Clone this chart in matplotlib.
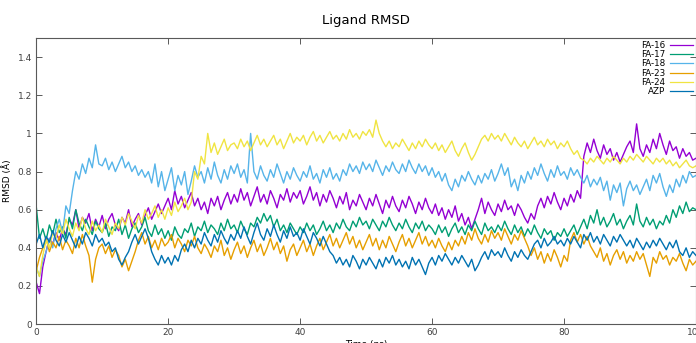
import numpy as np
import matplotlib
matplotlib.use("Agg")
import matplotlib.pyplot as plt
from matplotlib.ticker import FuncFormatter

# time axis: one value every 0.5 ns, 0 .. 100 ns
time = np.arange(201) * 0.5

fa16 = [0.22,0.16,0.30,0.38,0.45,0.42,0.48,0.44,0.50,0.47, 0.55,0.52,0.60,0.50,0.56,0.53,0.58,0.49,0.55,0.51,
        0.57,0.50,0.55,0.58,0.52,0.49,0.56,0.53,0.60,0.51, 0.55,0.58,0.52,0.57,0.61,0.55,0.59,0.63,0.58,0.62,
        0.66,0.60,0.70,0.63,0.67,0.61,0.65,0.69,0.62,0.66, 0.60,0.64,0.58,0.66,0.62,0.67,0.60,0.65,0.69,0.63,
        0.68,0.64,0.71,0.65,0.69,0.62,0.67,0.72,0.64,0.68, 0.63,0.70,0.66,0.61,0.68,0.65,0.71,0.64,0.69,0.66,
        0.70,0.63,0.67,0.72,0.65,0.69,0.62,0.68,0.64,0.70, 0.66,0.61,0.67,0.63,0.69,0.60,0.65,0.62,0.68,0.64,
        0.60,0.66,0.62,0.68,0.63,0.58,0.65,0.61,0.67,0.62, 0.59,0.65,0.61,0.67,0.63,0.58,0.64,0.60,0.66,0.61,
        0.58,0.63,0.57,0.61,0.55,0.60,0.56,0.62,0.54,0.58, 0.52,0.56,0.50,0.55,0.60,0.66,0.58,0.64,0.60,0.57,
        0.63,0.59,0.65,0.60,0.62,0.57,0.63,0.60,0.56,0.53, 0.58,0.55,0.62,0.66,0.61,0.67,0.63,0.69,0.64,0.60,
        0.66,0.62,0.68,0.64,0.70,0.66,0.88,0.95,0.90,0.97, 0.91,0.87,0.94,0.89,0.92,0.86,0.90,0.85,0.89,0.93,
        0.96,0.90,1.05,0.92,0.88,0.94,0.90,0.97,0.92,1.00, 0.94,0.89,0.96,0.91,0.93,0.87,0.92,0.88,0.90,0.86, 0.87]

fa17 = [0.62,0.45,0.50,0.44,0.52,0.47,0.55,0.48,0.51,0.45, 0.56,0.50,0.60,0.53,0.49,0.55,0.51,0.47,0.54,0.50,
        0.48,0.53,0.46,0.51,0.49,0.55,0.47,0.52,0.45,0.50, 0.53,0.48,0.51,0.56,0.49,0.46,0.52,0.47,0.50,0.45,
        0.49,0.44,0.51,0.47,0.45,0.50,0.48,0.53,0.46,0.51, 0.49,0.54,0.48,0.52,0.50,0.47,0.53,0.49,0.55,0.50,
        0.52,0.48,0.54,0.50,0.47,0.53,0.51,0.56,0.53,0.58, 0.54,0.57,0.51,0.55,0.49,0.52,0.48,0.53,0.50,0.47,
        0.51,0.48,0.53,0.49,0.52,0.47,0.50,0.54,0.49,0.52, 0.48,0.53,0.50,0.55,0.51,0.49,0.54,0.51,0.56,0.52,
        0.54,0.50,0.55,0.52,0.49,0.54,0.51,0.56,0.52,0.49, 0.53,0.50,0.55,0.51,0.48,0.53,0.50,0.54,0.49,0.52,
        0.50,0.47,0.52,0.48,0.51,0.46,0.50,0.53,0.48,0.51, 0.47,0.52,0.49,0.54,0.50,0.47,0.53,0.49,0.51,0.48,
        0.52,0.49,0.54,0.50,0.47,0.52,0.48,0.51,0.46,0.50, 0.47,0.52,0.48,0.45,0.50,0.47,0.49,0.44,0.48,0.46,
        0.50,0.46,0.49,0.52,0.47,0.51,0.55,0.50,0.57,0.53, 0.60,0.52,0.56,0.51,0.54,0.58,0.52,0.55,0.50,0.54,
        0.57,0.52,0.63,0.54,0.51,0.56,0.52,0.55,0.50,0.54, 0.52,0.57,0.53,0.60,0.56,0.62,0.58,0.64,0.59,0.61, 0.60]

fa18 = [0.30,0.25,0.33,0.38,0.45,0.40,0.50,0.55,0.48,0.62, 0.58,0.70,0.80,0.76,0.84,0.79,0.87,0.82,0.94,0.84,
        0.83,0.87,0.81,0.85,0.80,0.84,0.88,0.82,0.85,0.80, 0.83,0.78,0.81,0.77,0.80,0.74,0.84,0.72,0.80,0.70,
        0.76,0.82,0.70,0.78,0.73,0.80,0.68,0.75,0.83,0.77, 0.80,0.74,0.82,0.76,0.85,0.78,0.74,0.81,0.76,0.83,
        0.79,0.84,0.77,0.81,0.74,1.00,0.80,0.76,0.83,0.78, 0.75,0.81,0.77,0.84,0.79,0.74,0.80,0.76,0.82,0.78,
        0.75,0.80,0.77,0.83,0.76,0.79,0.74,0.81,0.77,0.82, 0.76,0.79,0.75,0.81,0.78,0.84,0.80,0.83,0.79,0.85,
        0.81,0.84,0.80,0.86,0.82,0.78,0.83,0.80,0.85,0.81, 0.79,0.84,0.80,0.86,0.82,0.79,0.84,0.80,0.83,0.78,
        0.82,0.77,0.80,0.75,0.79,0.73,0.70,0.76,0.72,0.78, 0.75,0.80,0.76,0.73,0.78,0.74,0.79,0.76,0.81,0.75,
        0.79,0.84,0.78,0.82,0.72,0.76,0.70,0.78,0.74,0.80, 0.76,0.82,0.78,0.84,0.79,0.75,0.81,0.77,0.83,0.78,
        0.80,0.76,0.82,0.78,0.81,0.77,0.74,0.78,0.72,0.76, 0.73,0.77,0.70,0.75,0.65,0.73,0.69,0.74,0.62,0.71,
        0.75,0.70,0.73,0.68,0.72,0.76,0.70,0.78,0.74,0.79, 0.72,0.67,0.73,0.69,0.76,0.72,0.78,0.74,0.80,0.77, 0.78]

fa23 = [0.28,0.35,0.40,0.45,0.38,0.43,0.40,0.46,0.39,0.44, 0.41,0.37,0.45,0.40,0.47,0.41,0.36,0.22,0.34,0.40,
        0.42,0.37,0.41,0.35,0.39,0.36,0.30,0.34,0.28,0.33, 0.38,0.44,0.48,0.42,0.46,0.40,0.44,0.39,0.45,0.41,
        0.43,0.47,0.40,0.45,0.42,0.38,0.44,0.41,0.46,0.40, 0.37,0.42,0.39,0.35,0.41,0.38,0.44,0.36,0.40,0.34,
        0.39,0.43,0.37,0.41,0.35,0.40,0.44,0.38,0.42,0.36, 0.40,0.45,0.39,0.43,0.37,0.41,0.33,0.39,0.42,0.36,
        0.40,0.44,0.38,0.42,0.36,0.41,0.45,0.39,0.43,0.47, 0.41,0.45,0.40,0.44,0.48,0.42,0.46,0.40,0.44,0.39,
        0.43,0.47,0.41,0.45,0.39,0.44,0.40,0.46,0.42,0.38, 0.43,0.47,0.41,0.45,0.40,0.44,0.48,0.42,0.46,0.41,
        0.44,0.40,0.45,0.41,0.38,0.43,0.39,0.44,0.41,0.46, 0.42,0.48,0.44,0.50,0.45,0.42,0.47,0.43,0.49,0.45,
        0.48,0.44,0.50,0.46,0.42,0.47,0.44,0.49,0.45,0.41, 0.36,0.40,0.34,0.38,0.32,0.37,0.33,0.39,0.35,0.30,
        0.36,0.33,0.44,0.48,0.43,0.47,0.42,0.46,0.41,0.38, 0.35,0.40,0.33,0.37,0.31,0.36,0.39,0.34,0.38,0.32,
        0.36,0.33,0.38,0.34,0.37,0.31,0.25,0.35,0.32,0.38, 0.34,0.36,0.31,0.35,0.33,0.37,0.32,0.28,0.34,0.31, 0.33]

fa24 = [0.30,0.25,0.36,0.44,0.40,0.48,0.45,0.52,0.47,0.55, 0.50,0.46,0.53,0.49,0.56,0.50,0.47,0.54,0.49,0.52,
        0.48,0.55,0.51,0.47,0.53,0.50,0.56,0.52,0.58,0.54, 0.50,0.57,0.53,0.60,0.55,0.58,0.62,0.56,0.60,0.55,
        0.61,0.57,0.64,0.59,0.62,0.66,0.60,0.64,0.80,0.76, 0.88,0.84,1.00,0.90,0.95,0.89,0.93,0.97,0.91,0.94,
        0.95,0.92,0.97,0.93,0.96,0.91,0.95,0.99,0.94,0.97, 0.93,0.96,0.99,0.94,0.97,0.92,0.96,1.00,0.95,0.98,
        0.96,0.99,0.94,0.98,1.01,0.96,0.99,0.95,0.98,1.01, 0.97,0.99,0.96,1.00,0.97,1.02,0.98,1.00,0.97,1.01,
        0.99,1.02,0.98,1.07,1.00,0.96,0.93,0.96,0.92,0.95, 0.93,0.97,0.94,0.91,0.95,0.92,0.96,0.93,0.97,0.94,
        0.92,0.95,0.91,0.94,0.90,0.93,0.96,0.91,0.88,0.92, 0.95,0.90,0.86,0.89,0.93,0.97,0.99,0.96,1.00,0.97,
        0.99,0.96,1.00,0.97,0.94,0.98,0.95,0.93,0.96,0.92, 0.95,0.98,0.94,0.96,0.93,0.97,0.94,0.96,0.92,0.95,
        0.93,0.96,0.92,0.89,0.91,0.87,0.86,0.84,0.87,0.85, 0.88,0.86,0.84,0.87,0.85,0.88,0.86,0.84,0.87,0.85,
        0.88,0.86,0.89,0.87,0.85,0.88,0.86,0.84,0.87,0.85, 0.87,0.84,0.86,0.83,0.85,0.82,0.84,0.86,0.83,0.82, 0.83]

azp = [0.42,0.47,0.40,0.46,0.43,0.49,0.44,0.41,0.47,0.43, 0.48,0.44,0.40,0.46,0.42,0.48,0.45,0.41,0.47,0.43,
       0.45,0.41,0.43,0.38,0.40,0.34,0.31,0.35,0.38,0.43, 0.47,0.42,0.46,0.50,0.45,0.38,0.34,0.31,0.36,0.32,
       0.35,0.31,0.36,0.33,0.39,0.42,0.38,0.44,0.40,0.45, 0.42,0.48,0.44,0.41,0.47,0.43,0.49,0.45,0.42,0.47,
       0.44,0.49,0.45,0.51,0.46,0.42,0.48,0.53,0.47,0.44, 0.50,0.46,0.52,0.47,0.43,0.49,0.45,0.51,0.46,0.48,
       0.44,0.50,0.46,0.42,0.48,0.45,0.41,0.46,0.42,0.38, 0.36,0.32,0.35,0.31,0.34,0.30,0.36,0.33,0.29,0.34,
       0.31,0.35,0.32,0.29,0.34,0.30,0.35,0.32,0.36,0.31, 0.34,0.30,0.33,0.29,0.35,0.31,0.34,0.30,0.26,0.32,
       0.35,0.31,0.36,0.33,0.37,0.34,0.31,0.35,0.32,0.36, 0.33,0.30,0.34,0.28,0.31,0.35,0.38,0.34,0.39,0.36,
       0.38,0.35,0.40,0.36,0.33,0.38,0.35,0.39,0.36,0.34, 0.38,0.42,0.44,0.40,0.45,0.41,0.43,0.46,0.42,0.44,
       0.41,0.45,0.42,0.46,0.43,0.40,0.47,0.44,0.48,0.43, 0.46,0.42,0.47,0.44,0.41,0.46,0.43,0.47,0.44,0.41,
       0.44,0.40,0.45,0.42,0.39,0.43,0.40,0.44,0.41,0.45, 0.42,0.39,0.43,0.40,0.44,0.38,0.36,0.40,0.35,0.38, 0.36]

labels = ["FA-16", "FA-17", "FA-18", "FA-23", "FA-24", "AZP"]
series = [fa16, fa17, fa18, fa23, fa24, azp]
colors = ["#9400d3", "#009e73", "#56b4e9", "#e69f00", "#f0e442", "#0072b2"]

fig = plt.figure(figsize=(6.96, 3.43), dpi=100)
ax = fig.add_axes([0.052, 0.055, 0.948, 0.834])

for y, c, lab in zip(series, colors, labels):
    ax.plot(time, y, color=c, lw=1.0, label=lab)

ax.set_xlim(0, 100)
ax.set_ylim(0, 1.5)
ax.set_xticks([0, 20, 40, 60, 80, 100])
ax.set_yticks([0, 0.2, 0.4, 0.6, 0.8, 1.0, 1.2, 1.4])
ax.yaxis.set_major_formatter(FuncFormatter(lambda v, p: "%g" % v))
ax.tick_params(direction="in", length=4, width=0.6, labelsize=6.5, colors="0.25",
               top=True, right=True, pad=3)
for s in ax.spines.values():
    s.set_linewidth(0.8)
    s.set_color("0.35")

ax.set_title("Ligand RMSD", fontsize=9.5, pad=10)
ax.set_xlabel("Time (ns)", fontsize=6.5, labelpad=2)
ax.set_ylabel("RMSD (Å)", fontsize=6.5, labelpad=4)

leg = ax.legend(loc="upper right", markerfirst=False, frameon=False, fontsize=6.3,
                handlelength=2.6, handletextpad=0.6, labelspacing=0.02,
                borderaxespad=0.15, borderpad=0.2)
for h in leg.get_lines():
    h.set_linewidth(0.9)

fig.savefig("out.png", dpi=100)
